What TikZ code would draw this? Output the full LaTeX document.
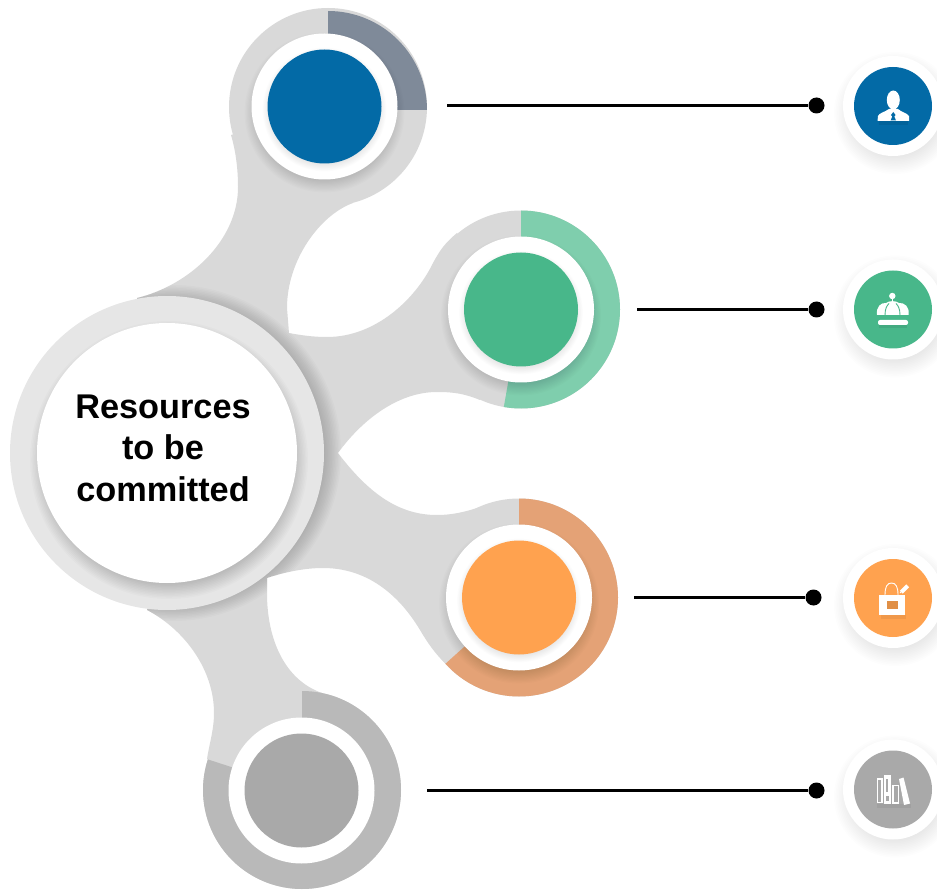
\documentclass[tikz,border=0pt]{standalone}
\usepackage{fontspec}
\setmainfont{Liberation Sans}
\usetikzlibrary{positioning,calc}
\definecolor{blobgray}{HTML}{D9D9D9}
\definecolor{hubgray}{HTML}{E6E6E6}
\definecolor{bluefill}{HTML}{036AA6}
\definecolor{bluearc}{HTML}{7F8A99}
\definecolor{greenfill}{HTML}{48B78A}
\definecolor{greenarc}{HTML}{7FCEAD}
\definecolor{orangefill}{HTML}{FFA24F}
\definecolor{orangearc}{HTML}{E4A276}
\definecolor{grayfill}{HTML}{A9A9A9}
\definecolor{grayarc}{HTML}{B9B9B9}
\tikzset{
  blobfill/.style={fill=blobgray},
  bubble/.style={circle, inner sep=0pt, fill=white, minimum size=146pt},
  disc/.style={circle, inner sep=0pt, minimum size=114pt},
  badge/.style={circle, inner sep=0pt, minimum size=78pt},
  halo/.style={circle, inner sep=0pt, fill=white, minimum size=100pt},
  dot/.style={circle, inner sep=0pt, fill=black, minimum size=16pt},
  leader/.style={line width=2.8pt, black},
  glyph/.style={fill=white}
}
% center, radius, opacity, offset, spread
\newcommand{\softshadow}[5]{%
  \foreach \k in {0,...,15}
    \fill[black, opacity=#3] ($(#1)+(#4)$) circle ({#2-#5*0.5+\k*#5/15});
}
% center, radius, end angle
\newcommand{\ringarc}[4]{%
  \fill[#4] (#1) -- ++(-90:#2) arc[start angle=-90, end angle=#3, radius=#2] -- cycle;
}
\newcommand{\blobpath}{(231,135) .. controls (236,152) and (238,170) .. (238,187)
  .. controls (238,240) and (190,285) .. (137,298)
  -- (167,453) -- (147,610)
  .. controls (185,630) and (214,670) .. (214,713)
  .. controls (214,730) and (209,745) .. (207,759)
  -- (302,790) -- (322,693)
  .. controls (285,680) and (267,640) .. (267,593) -- (267,578)
  .. controls (285,572) and (305,568) .. (323,568)
  .. controls (375,568) and (405,605) .. (420,630)
  .. controls (427,642) and (436,655) .. (446,664)
  -- (519,597) -- (480,507)
  .. controls (465,512) and (452,515) .. (437,515)
  .. controls (400,515) and (370,495) .. (338,453)
  .. controls (362,420) and (398,392) .. (437,392)
  .. controls (455,392) and (465,394) .. (480,400)
  -- (521,309) -- (457,233)
  .. controls (445,243) and (440,250) .. (433,263)
  .. controls (415,300) and (375,337) .. (327,337)
  .. controls (312,337) and (300,335) .. (289,333)
  -- (287,308)
  .. controls (287,260) and (320,215) .. (353,203)
  -- (328,107) -- cycle}
\begin{document}
\begin{tikzpicture}[x=1pt, y=1pt, yscale=-1]
\useasboundingbox (0,0) rectangle (937,890);
\coordinate (hubC) at (167,453);
\coordinate (ringA) at (324.5,106.5);
\coordinate (ringB) at (521,309.5);
\coordinate (ringC) at (519,597.5);
\coordinate (ringD) at (301.5,790.5);
\coordinate (badgeAC) at (893,106);
\coordinate (badgeBC) at (893,309.5);
\coordinate (badgeCC) at (893,598);
\coordinate (badgeDC) at (893,789.5);

% grey body
\fill[blobfill] \blobpath;
\fill[blobfill] (328,107) circle (99);
\fill[blobfill] (ringB) circle (99);
\fill[blobfill] (ringC) circle (99);
\fill[blobfill] (302,790) circle (99);

% progress rings
\ringarc{328,110}{99}{0}{bluearc}
\ringarc{ringB}{99}{100}{greenarc}
\ringarc{ringC}{99}{138}{orangearc}
\ringarc{302,790}{99}{198}{grayarc}

% hub
\begin{scope}
\clip \blobpath;
\softshadow{hubC}{157}{0.016}{6,0}{22}
\end{scope}
\node[circle, inner sep=0pt, fill=hubgray, minimum size=314pt] (hubring) at (hubC) {};
\softshadow{hubC}{128}{0.016}{2,7}{22}
\node[circle, inner sep=0pt, fill=white, minimum size=260pt] (hub) at (hubC) {};
\node[align=center, font=\bfseries\fontsize{34.3}{41.5}\selectfont] (hublabel) at (163,448) {Resources\\to be\\committed};

% bubbles
\softshadow{ringA}{71}{0.012}{0,6}{18}
\softshadow{ringB}{71}{0.012}{0,6}{18}
\softshadow{ringC}{71}{0.012}{0,6}{18}
\node[bubble] (bubbleA) at (ringA) {};
\node[bubble] (bubbleB) at (ringB) {};
\node[bubble] (bubbleC) at (ringC) {};
\node[bubble] (bubbleD) at (ringD) {};
\softshadow{ringA}{57}{0.006}{0,3}{10}
\softshadow{ringB}{57}{0.006}{0,3}{10}
\softshadow{ringC}{57}{0.006}{0,3}{10}
\node[disc, fill=bluefill] (discA) at (ringA) {};
\node[disc, fill=greenfill] (discB) at (ringB) {};
\node[disc, fill=orangefill] (discC) at (ringC) {};
\node[disc, fill=grayfill] (discD) at (ringD) {};

% leaders
\coordinate (startA) at (447,105.5);
\coordinate (startB) at (637,309.5);
\coordinate (startC) at (634,597.5);
\coordinate (startD) at (427,790.5);
\node[dot] (dotA) at (816.5,105.5) {};
\node[dot] (dotB) at (816.5,309.5) {};
\node[dot] (dotC) at (813.5,597.5) {};
\node[dot] (dotD) at (816.5,790.5) {};
\draw[leader] (startA) -- (dotA);
\draw[leader] (startB) -- (dotB);
\draw[leader] (startC) -- (dotC);
\draw[leader] (startD) -- (dotD);

% badges
\foreach \c in {badgeAC,badgeBC,badgeCC,badgeDC}{
  \softshadow{\c}{49}{0.008}{2,7}{24}
}
\node[halo] (haloA) at (badgeAC) {};
\node[halo] (haloB) at (badgeBC) {};
\node[halo] (haloC) at (badgeCC) {};
\node[halo] (haloD) at (badgeDC) {};
\node[badge, fill=bluefill] (badgeA) at (badgeAC) {};
\node[badge, fill=greenfill] (badgeB) at (badgeBC) {};
\node[badge, fill=orangefill] (badgeC) at (badgeCC) {};
\node[badge, fill=grayfill] (badgeD) at (badgeDC) {};

% person
\begin{scope}[shift={(badgeAC)}]
\fill[black, opacity=0.07] (-14,15) rectangle (15,19);
\fill[glyph] (0.3,-6) ellipse (6.5 and 9.5);
\fill[glyph] (-15.5,15) -- (-15,10) .. controls (-14,7) and (-8,6) .. (-4,3) -- (5,3)
  .. controls (8,6) and (14,7) .. (16,10) -- (16,15) -- cycle;
\fill[bluefill] (0.3,6) -- (2.5,9) -- (1.3,10.5) -- (3,14.5) -- (-2.4,14.5) -- (-0.7,10.5) -- (-2,9) -- cycle;
\end{scope}

% bell
\begin{scope}[shift={(badgeBC)}]
\fill[black, opacity=0.07] (-14,15) rectangle (14,19);
\fill[glyph] (-0.7,-13.5) circle (3.2);
\fill[glyph] (-1.2,-11) rectangle (-0.2,-7);
\fill[glyph] (-16,5.5) .. controls (-17,-3) and (-12,-7) .. (-7,-6.5)
  .. controls (-4,-9) and (3,-9) .. (6,-6.5)
  .. controls (11,-7) and (17,-3) .. (15.5,5.5) -- cycle;
\draw[greenfill, line width=0.9pt] (-8,5.5) .. controls (-8,-1) and (-6,-4) .. (-4,-6);
\draw[greenfill, line width=0.9pt] (7,5.5) .. controls (7,-1) and (5,-4) .. (3,-6);
\fill[glyph, rounded corners=2pt] (-15,10.5) rectangle (15,15.5);
\end{scope}

% bag
\begin{scope}[shift={(badgeCC)}]
\fill[black, opacity=0.06] (-12,17) rectangle (13,21);
\draw[white, line width=0.9pt] (-8,-3) .. controls (-8,-11) and (-6,-15) .. (-1.5,-15)
  .. controls (3,-15) and (5,-11) .. (5,-3);
\fill[glyph] (-14.5,-3) rectangle (11.5,17);
\fill[orangefill!88!black] (-6.5,3) rectangle (4.5,11);
\fill[glyph, rotate around={-45:(11.5,-9)}] (7,-11) rectangle (16,-7);
\draw[white, line width=0.9pt] (7,-5) -- (9,-7);
\end{scope}

% books
\begin{scope}[shift={(badgeDC)}]
\fill[black, opacity=0.05] (-16,14) rectangle (18,18);
\draw[white, line width=1.5pt] (-15.5,-10.5) rectangle (-11,13);
\fill[glyph] (-9.5,-14.5) rectangle (-2.5,14);
\fill[grayfill] (-7.5,-11) rectangle (-5,2);
\fill[grayfill] (-7.5,6) rectangle (-4.5,11);
\draw[white, line width=1.5pt] (0,-4) rectangle (5.5,13.5);
\fill[glyph] (6,-10.5) -- (10.5,-12) -- (17,14) -- (11,15.5) -- cycle;
\end{scope}
\end{tikzpicture}
\end{document}
